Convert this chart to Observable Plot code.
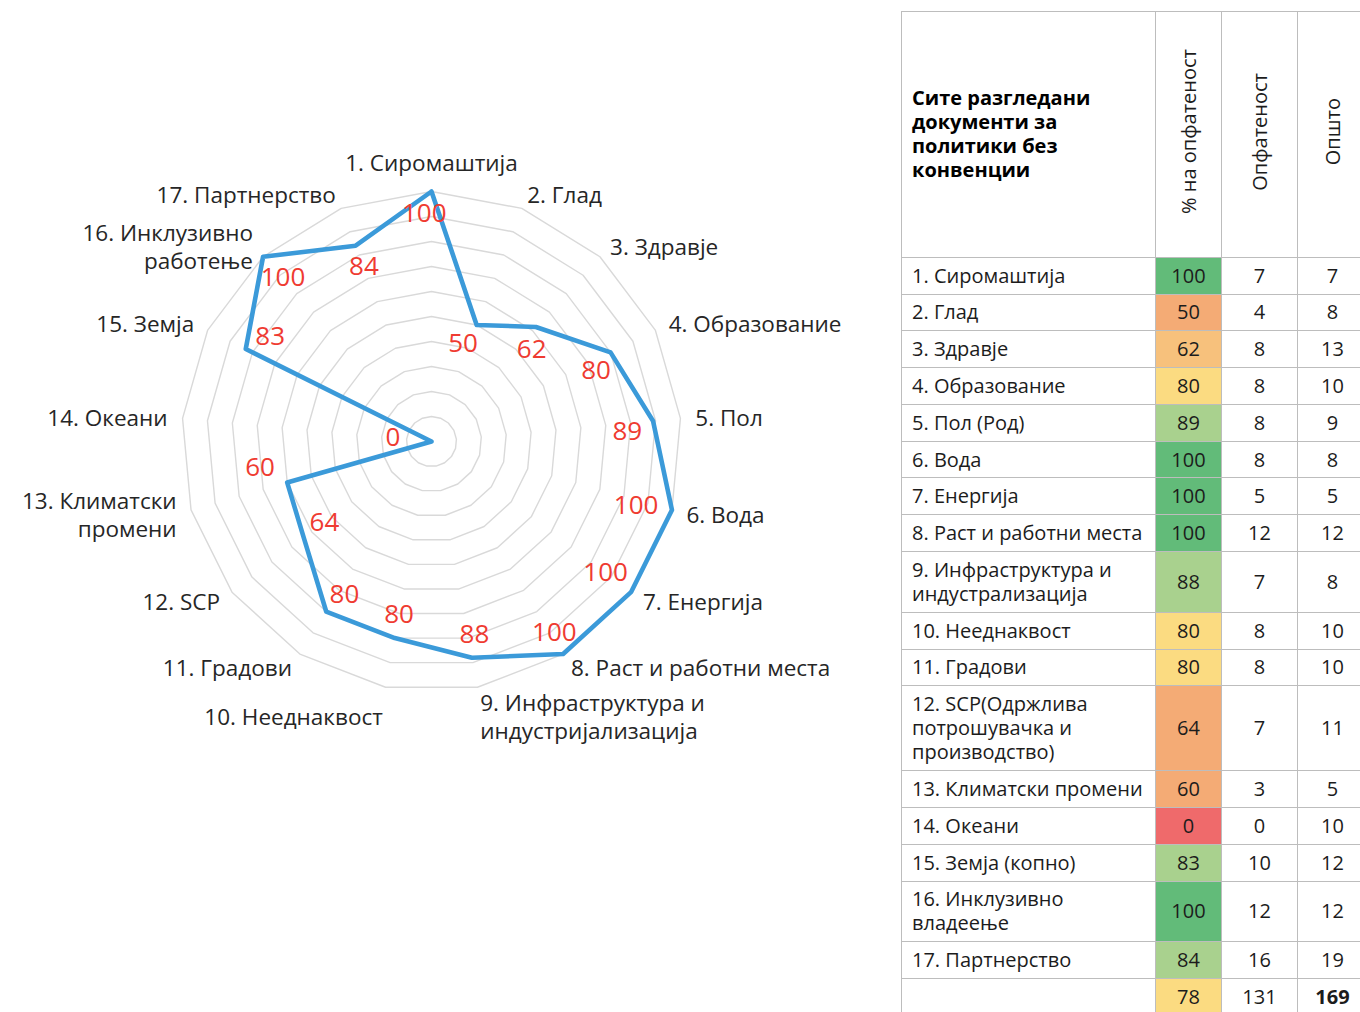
<!DOCTYPE html>
<html>
<head>
<meta charset="utf-8">
<script src="https://cdn.jsdelivr.net/npm/d3@7"></script>
<script src="https://cdn.jsdelivr.net/npm/@observablehq/plot@0.6"></script>
<style>
  html, body { margin: 0; padding: 0; background: #fff; }
  body { width: 1360px; height: 1012px; overflow: hidden; position: relative; font-family: "Open Sans", sans-serif; }
  #radar { position: absolute; left: 0; top: 0; }
  #tbl { position: absolute; left: 901px; top: 11px; width: 466px; border-collapse: collapse; table-layout: fixed;
         font-family: "Open Sans", sans-serif; font-size: 20px; color: #1c1c1c; }
  #tbl td { border: 1.5px solid #bdbdbd; padding: 5.9px 0; line-height: 24px; vertical-align: middle; }
  #tbl td.lbl { padding-left: 10px; padding-right: 2px; white-space: pre; overflow: visible; }
  #tbl td.num { text-align: center; }
  #tbl tr.head td { height: 233px; }
  #tbl tr.head td.title { font-weight: bold; color: #000; padding-left: 10px; white-space: pre; }
  #tbl .rot { display: inline-block; writing-mode: vertical-rl; transform: rotate(180deg); white-space: nowrap; }
</style>
</head>
<body>
<div id="radar"></div>
<table id="tbl"><colgroup><col style="width:254px"><col style="width:66px"><col style="width:76px"><col style="width:70px"></colgroup><tbody></tbody></table>
<script>
// ---------- data ----------
const radarLabels = [
  "1. Сиромаштија", "2. Глад", "3. Здравје", "4. Образование", "5. Пол", "6. Вода",
  "7. Енергија", "8. Раст и работни места", "9. Инфраструктура и\nиндустријализација",
  "10. Нееднаквост", "11. Градови", "12. SCP", "13. Климатски\nпромени", "14. Океани",
  "15. Земја", "16. Инклузивно\nработење", "17. Партнерство"
];
const tableLabels = [
  "1. Сиромаштија", "2. Глад", "3. Здравје", "4. Образование", "5. Пол (Род)", "6. Вода",
  "7. Енергија", "8. Раст и работни места", "9. Инфраструктура и\nиндустрализација",
  "10. Нееднаквост", "11. Градови", "12. SCP(Одржлива\nпотрошувачка и\nпроизводство)",
  "13. Климатски промени", "14. Океани", "15. Земја (копно)", "16. Инклузивно\nвладеење",
  "17. Партнерство"
];
const coverage = [100, 50, 62, 80, 89, 100, 100, 100, 88, 80, 80, 64, 60, 0, 83, 100, 84];
const covered  = [7, 4, 8, 8, 8, 8, 5, 12, 7, 8, 8, 7, 3, 0, 10, 12, 16];
const overall  = [7, 8, 13, 10, 9, 8, 5, 12, 8, 10, 10, 11, 5, 10, 12, 12, 19];
const ringLevels = [10, 20, 30, 40, 50, 60, 70, 80, 90, 100];
const tableTitle = "Сите разгледани\nдокументи за\nполитики без\nконвенции";
const colHeaders = ["% на опфатеност", "Опфатеност", "Општо"];

// ---------- radar geometry ----------
const N = coverage.length;
const W = 900, H = 1012, CX = 431, CY = 441, RPX = 250; // 100 % -> 250px
const k = RPX / 100;
const ang = i => (((i % N) + N) % N) * 2 * Math.PI / N;
const polar = (v, a) => ({x: v * Math.sin(a), y: v * Math.cos(a)});   // data units, y up

const ringPts = ringLevels.flatMap(r => d3.range(N + 1).map(i => ({ring: r, ...polar(r, ang(i))})));
const dataPts = d3.range(N + 1).map(i => polar(coverage[i % N], ang(i)));

// value labels: tucked into the polygon corner at each point (along the angle bisector);
// a label that would collide with one already placed goes to the outside of the corner
const VFS = 26;
const vert = coverage.map((v, i) => polar(v, ang(i)));
const unit = (x, y) => { const l = Math.hypot(x, y); return l > 1e-9 ? [x / l, y / l] : [0, 0]; };
const placed = [];
const valueLabels = coverage.map((v, i) => {
  const p = vert[i], p1 = vert[(i + N - 1) % N], p2 = vert[(i + 1) % N];
  const u1 = unit(p1.x - p.x, p1.y - p.y), u2 = unit(p2.x - p.x, p2.y - p.y);
  let b = [u1[0] + u2[0], u1[1] + u2[1]];
  const c = unit(-p.x, -p.y);
  let convex = true;
  if (Math.hypot(b[0], b[1]) < 0.2) b = c;
  else if (b[0] * c[0] + b[1] * c[1] < 0) { b = [-b[0], -b[1]]; convex = false; }
  b = unit(b[0], b[1]);
  const w = String(v).length * 0.572 * VFS, h = 0.74 * VFS;
  const base = 14 + Math.max(Math.abs(b[0]) * w / 2, Math.abs(b[1]) * h / 2);   // px
  let d = base;
  if (convex) {
    const half = Math.acos(Math.max(-1, Math.min(1, u1[0] * u2[0] + u1[1] * u2[1]))) / 2;
    d = Math.max(d, 14 / Math.sin(half));
  }
  const at = (dir, dist) => ({x: p.x * k + dir[0] * dist, y: p.y * k + dir[1] * dist}); // px, y up
  const hits = q => placed.some(o => Math.abs(o.x - q.x) < (o.w + w) / 2 + 2 && Math.abs(o.y - q.y) < VFS * 1.1);
  let q = at(b, d);
  if (hits(q)) q = at([-b[0], -b[1]], base + 4);
  placed.push({x: q.x, y: q.y, w});
  return {text: String(v), x: q.x / k, y: q.y / k};
});

// category labels just outside the outer ring
const CFS = 22.5, CLH = 28, CR = 265;
const catLabels = radarLabels.map((t, i) => {
  const a = ang(i), s = Math.sin(a), cs = Math.cos(a);
  const anchor = s > 0.1 ? "start" : s < -0.1 ? "end" : "middle";
  const shift = Math.abs(s) < 0.3 ? (CLH / 2) * cs : 0; // px, push off the ring
  const p = polar(CR / k, a);
  return {text: t, anchor, x: p.x, y: p.y + shift / k};
});

const catText = anchor => Plot.text(catLabels.filter(d => d.anchor === anchor), {
  x: "x", y: "y", text: "text", textAnchor: anchor, fontSize: CFS, lineHeight: CLH / CFS,
  fill: "#262626", fontFamily: "Open Sans"
});

const chart = Plot.plot({
  width: W, height: H, margin: 0,
  x: {domain: [-CX / k, (W - CX) / k], axis: null},
  y: {domain: [-(H - CY) / k, CY / k], axis: null},
  marks: [
    Plot.line(ringPts, {x: "x", y: "y", z: "ring", stroke: "#d9d9d9", strokeWidth: 1.4}),
    Plot.line(dataPts, {x: "x", y: "y", stroke: "#3b9ad9", strokeWidth: 4.6, strokeLinejoin: "round"}),
    Plot.text(valueLabels, {x: "x", y: "y", text: "text", fill: "#ef3b31", fontSize: VFS, fontFamily: "Open Sans"}),
    catText("start"), catText("middle"), catText("end")
  ]
});
document.getElementById("radar").append(chart);

// ---------- table ----------
const cellColor = d3.scaleThreshold()
  .domain([1, 62, 63, 70, 82, 95])
  .range(["#ef6a6b", "#f4ab75", "#f7c17c", "#f4ab75", "#fbdb81", "#a9d18e", "#62bb79"]);

const tbody = d3.select("#tbl tbody");
const head = tbody.append("tr").attr("class", "head");
head.append("td").attr("class", "title").text(tableTitle);
colHeaders.forEach(h => head.append("td").attr("class", "num").append("span").attr("class", "rot").text(h));

tableLabels.forEach((lab, i) => {
  const tr = tbody.append("tr");
  tr.append("td").attr("class", "lbl").text(lab);
  tr.append("td").attr("class", "num").style("background", cellColor(coverage[i])).text(coverage[i]);
  tr.append("td").attr("class", "num").text(covered[i]);
  tr.append("td").attr("class", "num").text(overall[i]);
});
const sumCovered = d3.sum(covered), sumOverall = d3.sum(overall);
const sumPct = Math.round(100 * sumCovered / sumOverall);
const sr = tbody.append("tr");
sr.append("td").attr("class", "lbl").text("");
sr.append("td").attr("class", "num").style("background", cellColor(sumPct)).text(sumPct);
sr.append("td").attr("class", "num").text(sumCovered);
sr.append("td").attr("class", "num").style("font-weight", "bold").text(sumOverall);
</script>
</body>
</html>
